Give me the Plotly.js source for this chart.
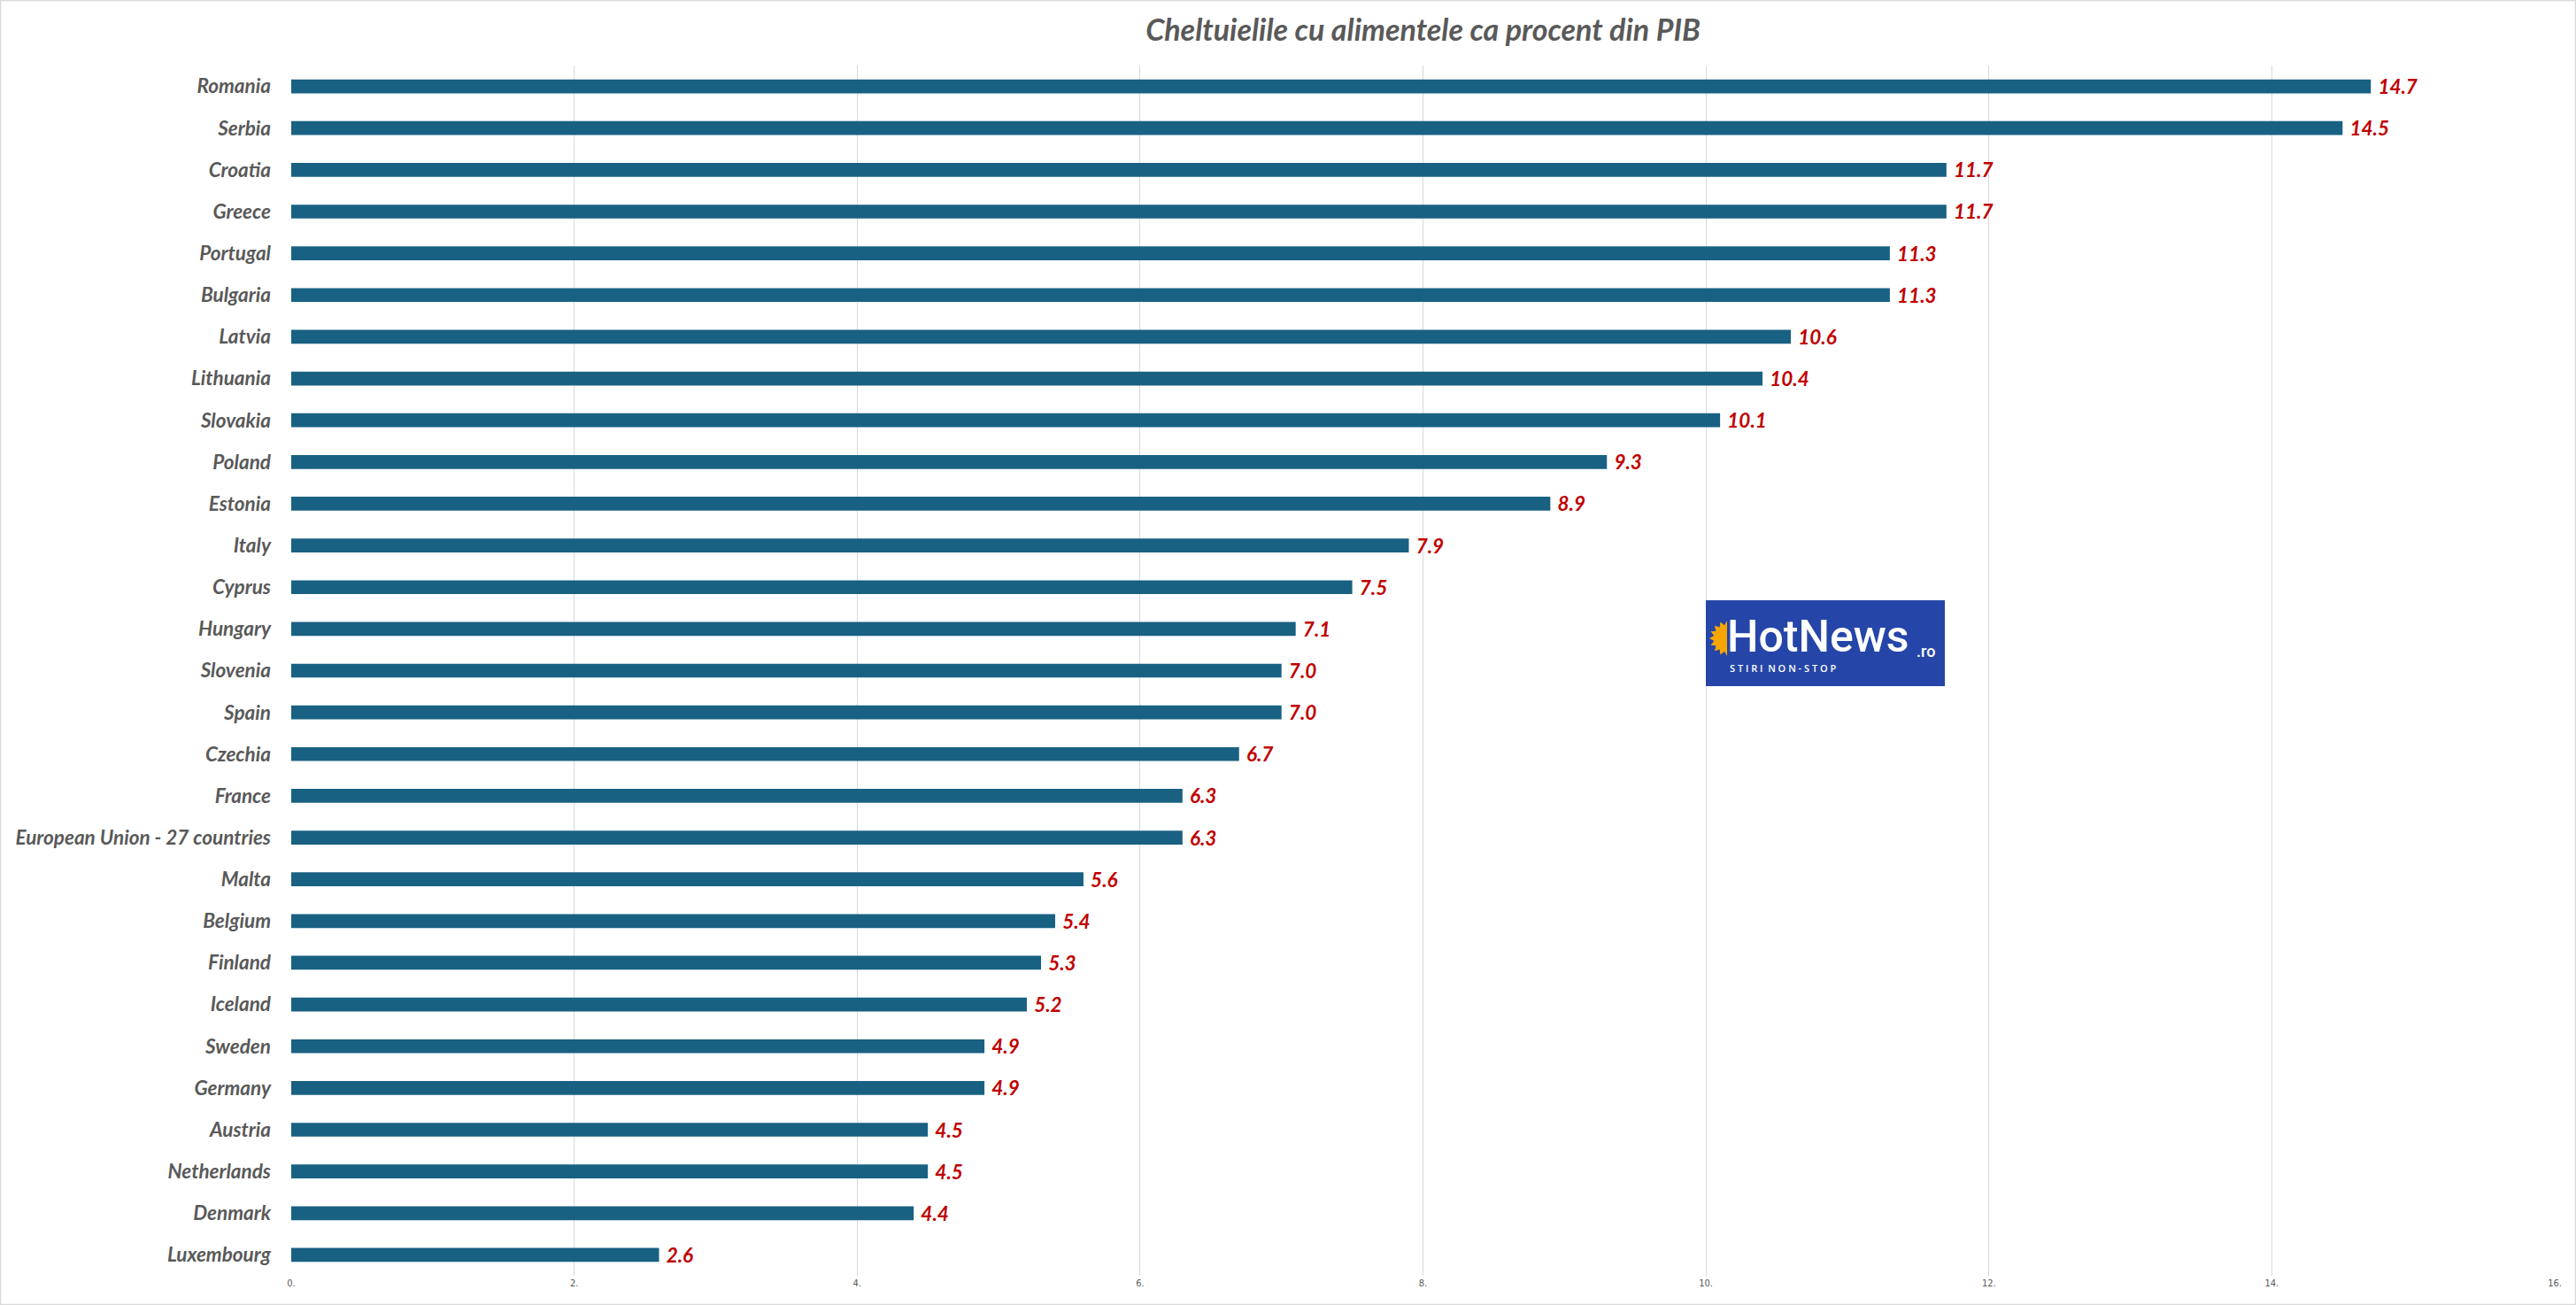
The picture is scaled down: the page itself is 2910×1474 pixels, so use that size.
<!DOCTYPE html>
<html>
<head>
<meta charset="utf-8">
<script src="https://cdn.plot.ly/plotly-3.0.1.min.js"></script>
<style>
html,body{margin:0;padding:0;background:#fff;}
#chart{width:2910px;height:1474px;}
</style>
</head>
<body>
<div id="chart"></div>
<script>
// ---- data ----
var countries = ["Romania","Serbia","Croatia","Greece","Portugal","Bulgaria","Latvia","Lithuania","Slovakia","Poland","Estonia","Italy","Cyprus","Hungary","Slovenia","Spain","Czechia","France","European Union - 27 countries","Malta","Belgium","Finland","Iceland","Sweden","Germany","Austria","Netherlands","Denmark","Luxembourg"];
var values = [14.7,14.5,11.7,11.7,11.3,11.3,10.6,10.4,10.1,9.3,8.9,7.9,7.5,7.1,7.0,7.0,6.7,6.3,6.3,5.6,5.4,5.3,5.2,4.9,4.9,4.5,4.5,4.4,2.6];
var tickVals = [0,2,4,6,8,10,12,14,16];
var tickText = ["0.","2.","4.","6.","8.","10.","12.","14.","16."];
var titleText = "Cheltuielile cu alimentele ca procent din PIB";

// ---- layout geometry (px) ----
var W = 2910, H = 1474;
var mL = 329, mR = 24, mT = 74, mB = 33;
var pw = W - mL - mR, ph = H - mT - mB;
function px(x){ return (x - mL) / pw; }
function py(y){ return 1 - (y - mT) / ph; }

var labelFont = {family: "Lato, 'Open Sans', sans-serif", size: 22.5, color: "#595959", weight: 700, style: "italic"};

var trace = {
  type: "bar",
  orientation: "h",
  x: values,
  y: countries,
  width: 0.333,
  marker: {color: "#186183"},
  text: values.map(function(v){ return "\u2009\u2009" + v.toFixed(1); }),
  textposition: "outside",
  constraintext: "none",
  textfont: {family: "Lato, sans-serif", size: 22.5, color: "#C00000", weight: 700, style: "italic"},
  cliponaxis: false,
  hoverinfo: "x+y"
};

// sun path (decorative logo)
function sunPath(){
  var cx = 1951, cy = 721, r1 = 15, r2 = 20, n = 16;
  var d = "M " + px(cx) + "," + py(cy - r2);
  for (var i = 0; i <= n; i++){
    var a = -Math.PI/2 - Math.PI * i / n;
    var r = (i % 2 === 0) ? r2 : r1;
    d += " L " + px(cx + r*Math.cos(a)) + "," + py(cy + r*Math.sin(a));
  }
  d += " Z";
  return d;
}

var layout = {
  width: W, height: H,
  margin: {l: mL, r: mR, t: mT, b: mB, pad: 0},
  paper_bgcolor: "#ffffff",
  plot_bgcolor: "#ffffff",
  showlegend: false,
  title: {
    text: titleText,
    x: 0.5, xanchor: "center", xref: "paper",
    y: 1 - 34.5 / H, yanchor: "middle", yref: "container",
    font: {family: "Lato, sans-serif", size: 34, color: "#595959", weight: 700, style: "italic"}
  },
  xaxis: {
    range: [0, 16],
    tickvals: tickVals,
    ticktext: tickText,
    showgrid: true,
    gridcolor: "#d9d9d9",
    gridwidth: 1,
    zeroline: false,
    showline: false,
    ticks: "",
    tickfont: {family: "'Liberation Sans Narrow', 'DejaVu Sans Condensed', sans-serif", size: 11, color: "#595959"},
    fixedrange: true
  },
  yaxis: {
    type: "category",
    categoryorder: "array",
    categoryarray: countries,
    range: [countries.length - 0.5, -0.5],
    showgrid: false,
    zeroline: false,
    showline: false,
    ticks: "",
    ticklabelstandoff: 22,
    tickfont: labelFont,
    fixedrange: true
  },
  shapes: [
    {type: "rect", xref: "paper", yref: "paper", x0: px(0.5), x1: px(W - 0.5), y0: py(H - 0.5), y1: py(0.5), line: {color: "#d9d9d9", width: 1.5}, fillcolor: "rgba(0,0,0,0)", layer: "below"},
    {type: "rect", xref: "paper", yref: "paper", x0: px(1927), x1: px(2197), y0: py(775), y1: py(678), line: {width: 0}, fillcolor: "#2546A8", layer: "above"},
    {type: "path", xref: "paper", yref: "paper", path: sunPath(), line: {width: 0}, fillcolor: "#F7A600", layer: "above"}
  ],
  annotations: [
    {xref: "paper", yref: "paper", x: px(1949), y: py(719), xanchor: "left", yanchor: "middle", showarrow: false,
     text: "HotNews", font: {family: "Roboto, 'Open Sans', sans-serif", size: 50, color: "#ffffff", weight: 500}},
    {xref: "paper", yref: "paper", x: px(2163), y: py(735), xanchor: "left", yanchor: "middle", showarrow: false,
     text: ".ro", font: {family: "Roboto, sans-serif", size: 18, color: "#ffffff", weight: 500}},
    {xref: "paper", yref: "paper", x: px(1952), y: py(754), xanchor: "left", yanchor: "middle", showarrow: false,
     text: "S T I R I  N O N - S T O P", font: {family: "'Open Sans', sans-serif", size: 11, color: "#ffffff", weight: 600}}
  ]
};

Plotly.newPlot("chart", [trace], layout, {displayModeBar: false});
</script>
</body>
</html>
